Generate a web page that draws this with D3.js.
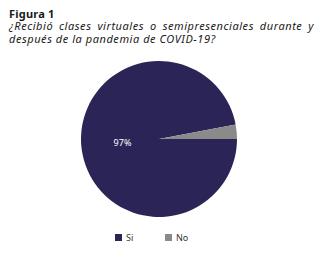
<!DOCTYPE html>
<html>
<head>
<meta charset="utf-8">
<script src="https://cdn.jsdelivr.net/npm/d3@7/dist/d3.min.js"></script>
<style>
  html, body { margin: 0; padding: 0; background: #fff; }
  #wrap { position: relative; width: 322px; height: 257px; overflow: hidden; }
  #title { position: absolute; left: 9px; top: 7px; width: 305px; font-family: "Noto Sans", sans-serif; color: #1a1a1a; }
  #title .fig { font-weight: bold; font-size: 11px; line-height: 13px; letter-spacing: 0.2px; }
  #title .q { font-style: italic; font-size: 11px; line-height: 12.5px; white-space: nowrap; letter-spacing: 0.55px; }
  #title .q.full { text-align: justify; text-align-last: justify; }
  svg { position: absolute; left: 0; top: 0; }
</style>
</head>
<body>
<div id="wrap">
  <div id="title">
    <div class="fig">Figura 1</div>
    <div class="q full">¿Recibió clases virtuales o semipresenciales durante y</div>
    <div class="q">después de la pandemia de COVID-19?</div>
  </div>
  <svg id="chart" width="322" height="257"></svg>
</div>
<script>
const categories = ["Si", "No"];
const values = [97, 3];
const valueLabels = ["97%", ""];
const colors = ["#2b2456", "#8a8a8a"];

const svg = d3.select("#chart");
const cx = 159, cy = 139, radius = 78;

const pie = d3.pie()
  .sort(null)
  .value(d => d.value)
  .startAngle(Math.PI / 2)
  .endAngle(Math.PI / 2 + 2 * Math.PI);

const data = categories.map((c, i) => ({ name: c, value: values[i], label: valueLabels[i], color: colors[i] }));
const arcs = pie(data);

const arc = d3.arc().innerRadius(0).outerRadius(radius);
const labelArc = d3.arc().innerRadius(radius * 0.47).outerRadius(radius * 0.47);

const g = svg.append("g").attr("transform", `translate(${cx},${cy})`);

g.selectAll("path.slice")
  .data(arcs)
  .join("path")
  .attr("class", "slice")
  .attr("d", arc)
  .attr("fill", d => d.data.color);

g.selectAll("text.val")
  .data(arcs.filter(d => d.data.label))
  .join("text")
  .attr("class", "val")
  .attr("transform", d => `translate(${labelArc.centroid(d)})`)
  .attr("text-anchor", "middle")
  .attr("dy", "0.35em")
  .attr("font-family", "Noto Sans, sans-serif")
  .attr("font-size", 9)
  .attr("fill", "#ffffff")
  .text(d => d.data.label);

// legend
const legendX = [115, 165];
const legend = svg.append("g").attr("font-family", "Noto Sans, sans-serif").attr("font-size", 9);
data.forEach((d, i) => {
  const item = legend.append("g").attr("transform", `translate(${legendX[i]},234)`);
  item.append("rect").attr("width", 7).attr("height", 7).attr("fill", d.color);
  item.append("text").attr("x", 11).attr("y", 7).attr("fill", "#333").text(d.name);
});
</script>
</body>
</html>
